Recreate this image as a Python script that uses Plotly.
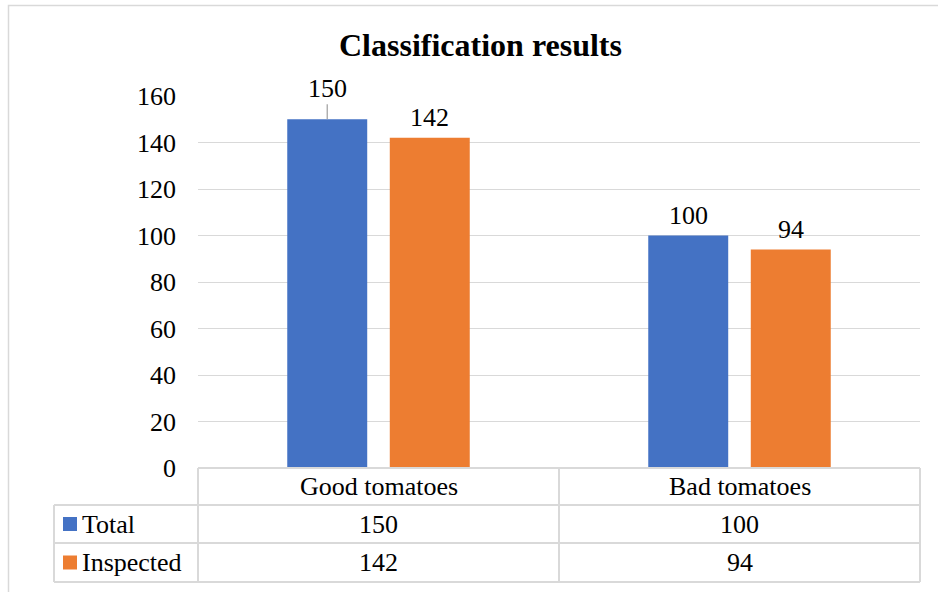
import plotly.graph_objects as go

# ---- data ----
categories = ["Good tomatoes", "Bad tomatoes"]
series_names = ["Total", "Inspected"]
total_values = [150, 100]
inspected_values = [142, 94]
series_colors = ["#4472C4", "#ED7D31"]
y_ticks = [0, 20, 40, 60, 80, 100, 120, 140, 160]
title_text = "Classification results"

# ---- layout geometry (pixels) ----
W, H = 938, 592
L, R, T, B = 198, 18, 96, 124
plot_w = W - L - R
plot_h = H - T - B
bargap = 0.432
bargroupgap = 0.22
FONT = "Liberation Serif"
FS = 26
GRID = "#d9d9d9"


def px_x(px):
    return (px - L) / plot_w


def px_y(py):
    return (H - B - py) / plot_h


series_values = [total_values, inspected_values]

fig = go.Figure()
for name, vals, col in zip(series_names, series_values, series_colors):
    fig.add_trace(go.Bar(x=categories, y=vals, name=name, marker_color=col,
                         marker_line_width=0, showlegend=False))

# value labels above the bars
cat_px = plot_w / len(categories)
slot_px = cat_px * (1 - bargap) / len(series_names)
vfont = dict(family=FONT, size=FS, color="#000")
annotations = []
for si, vals in enumerate(series_values):
    shift = (si - (len(series_names) - 1) / 2) * slot_px
    for cat, v in zip(categories, vals):
        if v == max(total_values):
            # raised label with a leader line down to the bar
            annotations.append(dict(x=cat, y=v, xref="x", yref="y", text=str(v),
                                    xshift=shift, showarrow=True, arrowhead=0,
                                    arrowcolor="#a6a6a6", arrowwidth=1.3,
                                    ax=0, ay=-31, standoff=0, font=vfont))
        else:
            annotations.append(dict(x=cat, y=v, xref="x", yref="y", text=str(v),
                                    xshift=shift, yshift=20, showarrow=False, font=vfont))

# title
annotations.append(dict(x=px_x(480), y=px_y(45), xref="paper", yref="paper",
                        xanchor="center", yanchor="middle",
                        text="<b>" + title_text + "</b>", showarrow=False,
                        font=dict(family=FONT, size=32, color="#000")))

# data table below the plot
row_edges = [px_y(468), px_y(505), px_y(543), px_y(582)]
col_edges = [px_x(54), 0.0, 0.5, 1.0]
shapes = []
line = dict(color=GRID, width=2)
shapes.append(dict(type="line", xref="paper", yref="paper", x0=0, x1=1,
                   y0=row_edges[0], y1=row_edges[0], line=line))
for ry in row_edges[1:]:
    shapes.append(dict(type="line", xref="paper", yref="paper", x0=col_edges[0], x1=1,
                       y0=ry, y1=ry, line=line))
shapes.append(dict(type="line", xref="paper", yref="paper", x0=col_edges[0], x1=col_edges[0],
                   y0=row_edges[1], y1=row_edges[3], line=line))
for cx in col_edges[1:]:
    shapes.append(dict(type="line", xref="paper", yref="paper", x0=cx, x1=cx,
                       y0=row_edges[0], y1=row_edges[3], line=line))

# outer chart border
shapes.append(dict(type="rect", xref="paper", yref="paper", x0=px_x(8.5), x1=px_x(945),
                   y0=px_y(600), y1=px_y(5.5), line=dict(color=GRID, width=1.5), layer="below"))

tfont = dict(family=FONT, size=FS, color="#000")
for ci, cat in enumerate(categories):
    cx = (col_edges[ci + 1] + col_edges[ci + 2]) / 2
    annotations.append(dict(x=cx, y=(row_edges[0] + row_edges[1]) / 2, xref="paper", yref="paper",
                            xanchor="center", yanchor="middle",
                            text=cat, showarrow=False, font=tfont))
    for si, vals in enumerate(series_values):
        annotations.append(dict(x=cx, y=(row_edges[si + 1] + row_edges[si + 2]) / 2,
                                xref="paper", yref="paper", text=str(vals[ci]),
                                xanchor="center", yanchor="middle",
                                showarrow=False, font=tfont))

for si, (name, col) in enumerate(zip(series_names, series_colors)):
    yc = (row_edges[si + 1] + row_edges[si + 2]) / 2
    half = 7 / plot_h
    shapes.append(dict(type="rect", xref="paper", yref="paper", x0=px_x(63), x1=px_x(77),
                       y0=yc - half, y1=yc + half, fillcolor=col, line=dict(width=0)))
    annotations.append(dict(x=px_x(80), y=yc, xref="paper", yref="paper", text=name,
                            xanchor="left", yanchor="middle", showarrow=False, font=tfont))

fig.update_layout(
    width=W, height=H, autosize=False,
    margin=dict(l=L, r=R, t=T, b=B, pad=0),
    paper_bgcolor="white", plot_bgcolor="white",
    barmode="group", bargap=bargap, bargroupgap=bargroupgap,
    font=dict(family=FONT, color="#000"),
    xaxis=dict(showticklabels=False, showgrid=False, zeroline=False, showline=False, ticks=""),
    yaxis=dict(range=[0, 160], tickvals=y_ticks, showgrid=True, gridcolor=GRID, gridwidth=1.3,
               zeroline=False, showline=False, ticks="", ticklabelstandoff=21,
               tickfont=dict(family=FONT, size=FS, color="#000")),
    shapes=shapes, annotations=annotations,
)

fig.write_html("out.html")
